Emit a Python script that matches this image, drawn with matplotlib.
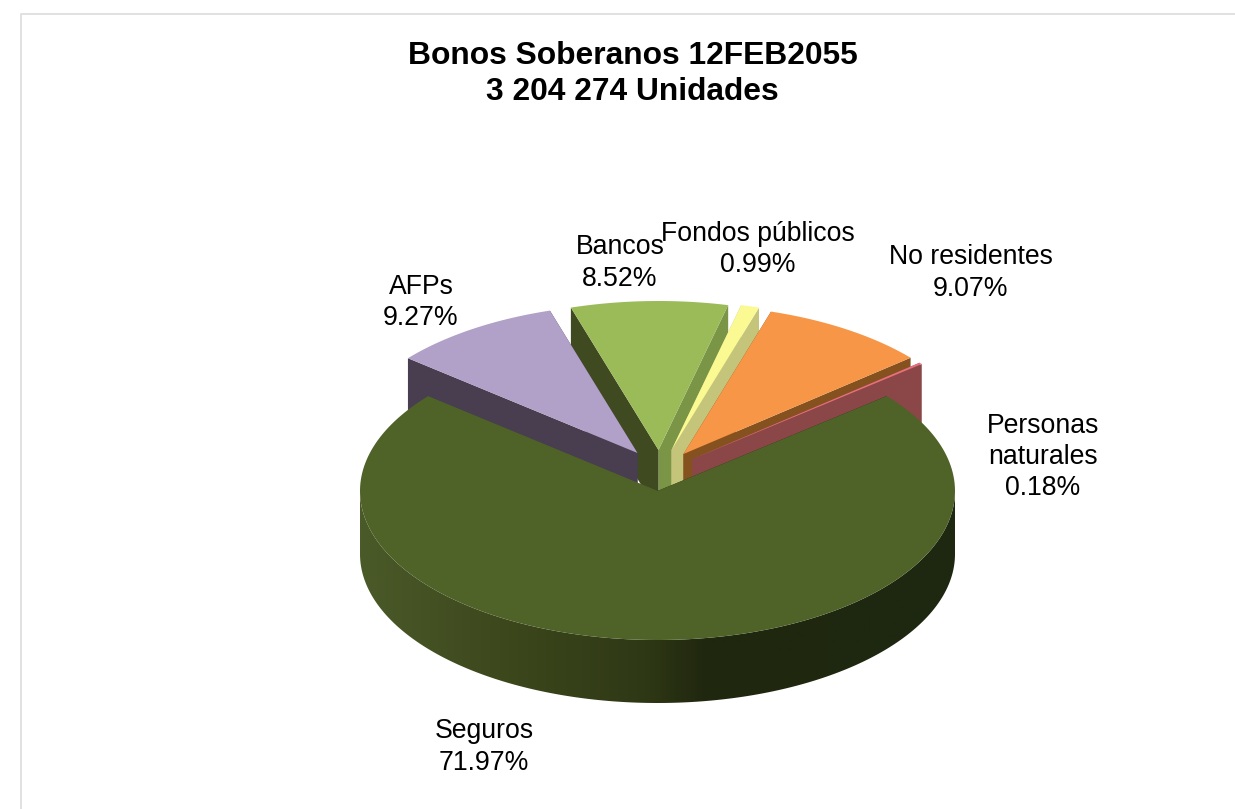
import numpy as np
import matplotlib
matplotlib.use('Agg')
import matplotlib.pyplot as plt
from matplotlib.patches import Polygon
from matplotlib.colors import LinearSegmentedColormap

plt.rcParams['font.family'] = ['Liberation Sans', 'DejaVu Sans']

title = 'Bonos Soberanos 12FEB2055\n3 204 274 Unidades'
# counter-clockwise from the left edge of the big slice
categories = ['Seguros', 'Personas\nnaturales', 'No residentes', 'Fondos públicos', 'Bancos', 'AFPs']
values = [71.97, 0.18, 9.07, 0.99, 8.52, 9.27]

top_colors = ['#4F6228', '#E8707C', '#F79646', '#FBF992', '#9BBB59', '#B1A0C7']
# wall under the first edge of a slice, then under the last edge
wall_a = ['#4F6228', '#8B4747', '#85521F', '#C4C47A', '#7A9545', '#483E50']
wall_b = ['#1F2710', '#8B4747', '#85521F', '#C4C47A', '#3F4A20', '#483E50']

# explosion of each slice, pixels on the page
off_x = [0, 35, 26, 14, 1, -20]
off_y = [0, -32, -37, -41, -41, -38]
label_x = [484, 1043, 971, 758, 620, 421]
label_y = [747, 457, 273, 249, 263, 302]

cx, cy = 657.5, 491
rx, ry = 297.5, 149
depth = 63
start = 140.5
draw_order = [4, 5, 3, 2, 1, 0]

fig = plt.figure(figsize=(12.35, 8.09), dpi=100)
ax = fig.add_axes([0, 0, 1, 1])
ax.set_xlim(0, 1235)
ax.set_ylim(809, 0)
ax.axis('off')

# chart frame
ax.plot([20.5, 20.5, 1235], [809, 13.5, 13.5], color='#DEDEDE', lw=1.3)


def arc(a0, a1, ox, oy):
    t = np.radians(np.linspace(a0, a1, 200))
    return np.column_stack([cx + ox + rx * np.cos(t), cy + oy - ry * np.sin(t)])


angles = start + np.concatenate([[0], np.cumsum(values)]) * 3.6

for i in draw_order:
    a0, a1 = angles[i], angles[i + 1]
    ox, oy = off_x[i], off_y[i]
    apex = np.array([cx + ox, cy + oy])
    down = np.array([0, depth])
    pts = arc(a0, a1, ox, oy)
    # straight cut faces, the top face hides what should not show
    ax.add_patch(Polygon([pts[0], apex, apex + down, pts[0] + down], fc=wall_a[i], lw=0, zorder=2))
    ax.add_patch(Polygon([pts[-1], apex, apex + down, pts[-1] + down], fc=wall_b[i], lw=0, zorder=2))
    ax.add_patch(Polygon(np.vstack([apex, pts]), fc=top_colors[i], lw=0, zorder=2))

# rim of the big slice with its left to right shading
rim_top = arc(180, 360, 0, 0)
rim = Polygon(np.vstack([rim_top, (rim_top + [0, depth])[::-1]]), fc='none', lw=0, zorder=1.5)
ax.add_patch(rim)
shade = LinearSegmentedColormap.from_list('rim', [(0, '#4B5A29'), (0.25, '#3C471C'), (0.48, '#2F3815'),
                                                  (0.58, '#20270F'), (1, '#1E2710')])
img = ax.imshow(np.linspace(0, 1, 400).reshape(1, -1), cmap=shade, aspect='auto', zorder=1.5,
                extent=[cx - rx, cx + rx, cy + ry + depth, cy])
img.set_clip_path(rim)
ax.set_xlim(0, 1235)
ax.set_ylim(809, 0)

ax.text(632.5, 74, title, ha='center', va='center', fontsize=22.9, fontweight='bold',
        color='black', linespacing=1.24)

for i in range(len(categories)):
    ax.text(label_x[i], label_y[i], '%s\n%.2f%%' % (categories[i], values[i]), ha='center', va='center',
            fontsize=19.2, color='black', linespacing=1.25, zorder=3)

fig.savefig('out.png', dpi=100, facecolor='white')
